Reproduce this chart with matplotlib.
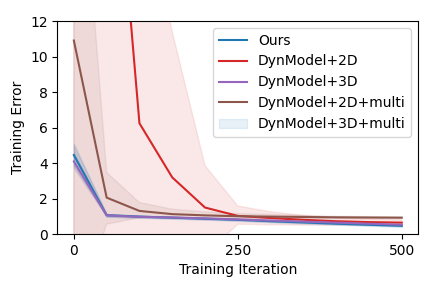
import matplotlib
matplotlib.use("Agg")
import matplotlib.pyplot as plt
import numpy as np

iters = [0, 50, 100, 150, 200, 250, 300, 350, 400, 450, 500]

ours = [4.45, 1.06, 0.98, 0.92, 0.86, 0.80, 0.72, 0.65, 0.58, 0.52, 0.46]
ours_lo = [3.9, 1.0, 0.93, 0.88, 0.82, 0.76, 0.68, 0.61, 0.54, 0.48, 0.42]
ours_hi = [5.0, 1.12, 1.03, 0.97, 0.91, 0.85, 0.77, 0.70, 0.63, 0.57, 0.51]

dyn2d = [35.0, 28.0, 6.24, 3.19, 1.49, 1.02, 0.90, 0.80, 0.72, 0.67, 0.64]
dyn2d_lo = [-30.0, -20.0, -10.0, -5.0, -1.2, 0.55, 0.52, 0.50, 0.50, 0.49, 0.48]
dyn2d_hi = [60.0, 45.0, 20.0, 11.4, 3.85, 1.58, 1.25, 1.05, 0.92, 0.85, 0.80]

dyn3d = [4.09, 1.05, 0.97, 0.93, 0.88, 0.82, 0.76, 0.70, 0.64, 0.58, 0.52]
dyn3d_lo = [3.7, 0.98, 0.92, 0.88, 0.83, 0.77, 0.71, 0.65, 0.59, 0.53, 0.47]
dyn3d_hi = [4.6, 1.12, 1.02, 0.98, 0.93, 0.87, 0.81, 0.75, 0.69, 0.63, 0.57]

dyn2d_multi = [10.9, 2.05, 1.30, 1.12, 1.05, 1.00, 0.98, 0.96, 0.94, 0.93, 0.92]
dyn2d_multi_lo = [-5.0, 0.55, 0.92, 0.92, 0.88, 0.86, 0.86, 0.86, 0.86, 0.86, 0.86]
dyn2d_multi_hi = [27.0, 3.47, 1.77, 1.40, 1.25, 1.15, 1.10, 1.05, 1.00, 0.98, 0.96]

dyn3d_multi_lo = [3.8, 0.97, 0.91, 0.86, 0.80, 0.74, 0.66, 0.59, 0.52, 0.46, 0.40]
dyn3d_multi_hi = [5.1, 1.13, 1.04, 0.98, 0.92, 0.86, 0.78, 0.71, 0.64, 0.58, 0.52]

fig, ax = plt.subplots(figsize=(4.32, 2.88), dpi=100)

ax.plot(iters, ours, color="tab:blue", label="Ours")
ax.fill_between(iters, ours_lo, ours_hi, color="tab:blue", alpha=0.1)
ax.plot(iters, dyn2d, color="tab:red", label="DynModel+2D")
ax.fill_between(iters, dyn2d_lo, dyn2d_hi, color="tab:red", alpha=0.1)
ax.plot(iters, dyn3d, color="tab:purple", label="DynModel+3D")
ax.fill_between(iters, dyn3d_lo, dyn3d_hi, color="tab:purple", alpha=0.1)
ax.plot(iters, dyn2d_multi, color="tab:brown", label="DynModel+2D+multi")
ax.fill_between(iters, dyn2d_multi_lo, dyn2d_multi_hi, color="tab:brown", alpha=0.1)
ax.fill_between(iters, dyn3d_multi_lo, dyn3d_multi_hi, color="tab:blue", alpha=0.1,
                label="DynModel+3D+multi")

ax.set_ylim(0, 12)
ax.set_xticks([0, 250, 500])
ax.set_xlabel("Training Iteration")
ax.set_ylabel("Training Error")
ax.legend(loc="upper right")
fig.subplots_adjust(left=0.133, right=0.968, top=0.927, bottom=0.1875)
fig.savefig("out.png", dpi=100)
